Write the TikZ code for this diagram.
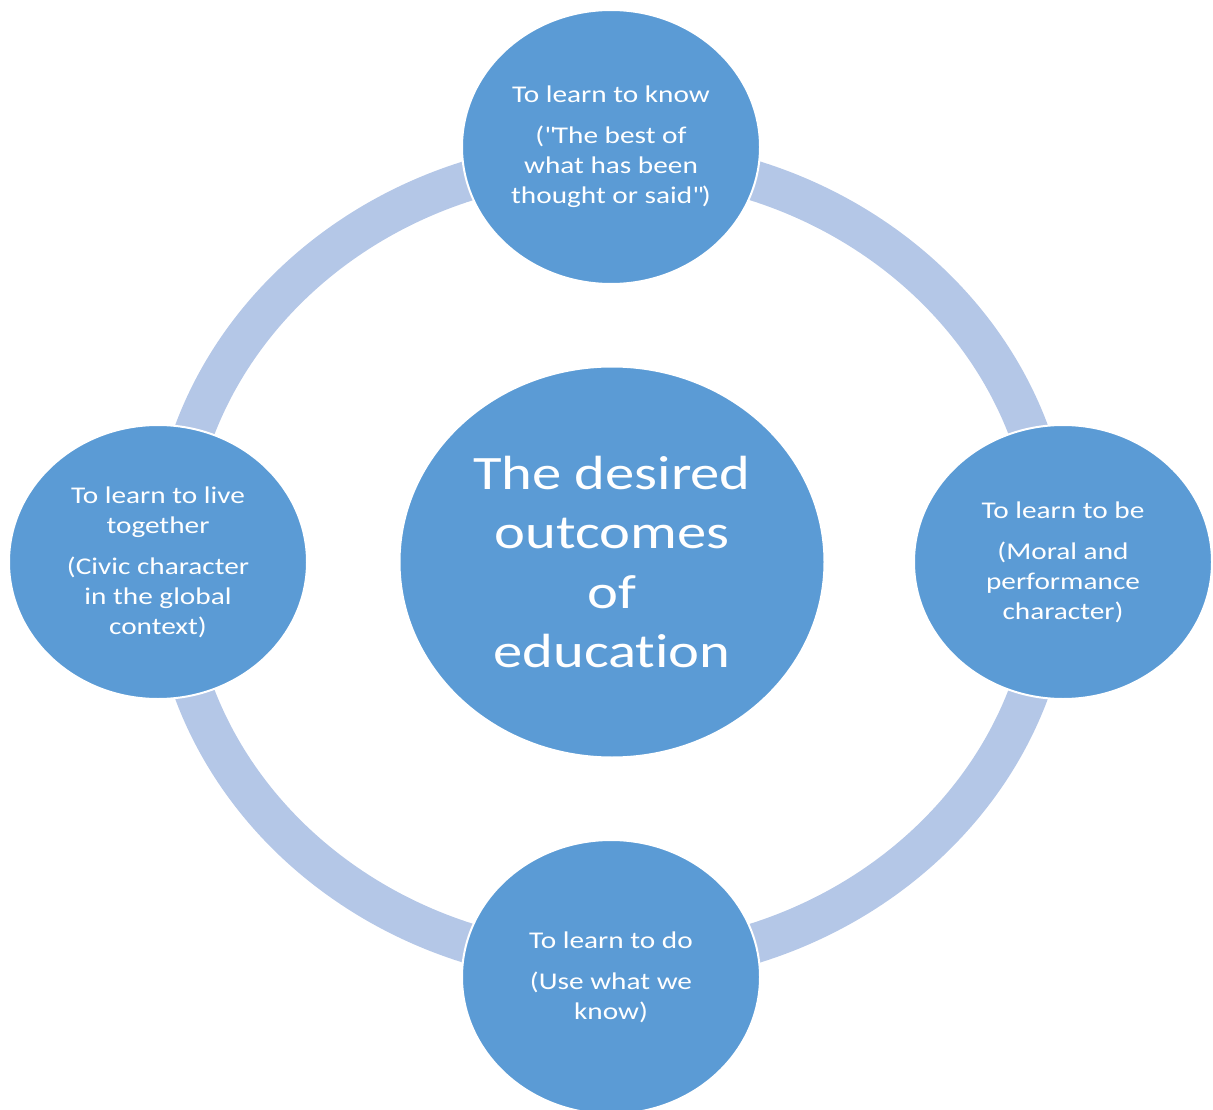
\documentclass[tikz,border=0pt]{standalone}
\usepackage{fontspec}
\setmainfont{Carlito}[FakeStretch=1.22, Ligatures={NoCommon}]
\usetikzlibrary{shapes.geometric}
\definecolor{circblue}{HTML}{5B9BD5}
\definecolor{ringblue}{HTML}{B4C7E7}
\tikzset{
  outer/.style={ellipse, fill=circblue, draw=white, line width=2pt,
    minimum width=298pt, minimum height=274pt, inner sep=0pt,
    text=white, align=center, font=\fontsize{24}{30}\selectfont},
  inner/.style={ellipse, fill=circblue, draw=white, line width=2pt,
    minimum width=425pt, minimum height=391pt, inner sep=0pt,
    text=white, align=center, font=\fontsize{48}{59.5}\selectfont},
  ring/.style={draw=ringblue, line width=40pt}
}
\begin{document}
\begin{tikzpicture}[x=1pt,y=-1pt]
\useasboundingbox (0,0) rectangle (1213,1110);
\clip (0,0) rectangle (1213,1110);
\coordinate (ringc) at (611.5,562);
\draw[ring] (ringc) ellipse [x radius=441, y radius=403];
\node[inner] (center) at (612,562) {The desired\\outcomes\\of\\education};
\node[outer] (know) at (611,147) {To learn to know\\[11pt](\textquotedbl The best of\\what has been\\thought or said\textquotedbl)};
\node[outer] (be) at (1063,562) {To learn to be\\[11pt](Moral and\\performance\\character)};
\node[outer] (do) at (611,977) {To learn to do\\[11pt](Use what we\\know)};
\node[outer] (live) at (158,562) {To learn to live\\together\\[11pt](Civic character\\in the global\\context)};
\end{tikzpicture}
\end{document}
